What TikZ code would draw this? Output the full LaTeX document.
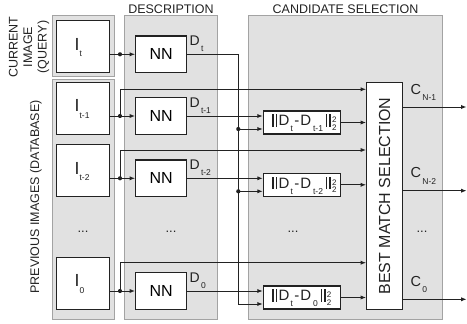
\documentclass[tikz,border=0pt]{standalone}
\usepackage{fontspec}
\setmainfont{Liberation Sans}
\usetikzlibrary{arrows.meta,calc}
\definecolor{panelfill}{HTML}{E1E1E1}
\definecolor{panelline}{HTML}{A3A3A3}
\definecolor{ink}{HTML}{222222}
\newcommand\fsz[2]{{\fontsize{#1}{#1}\selectfont #2}}
\newcommand\lsub[2]{\raisebox{-#1}{\fontsize{8.5}{8.5}\selectfont #2}}
\newcommand\nrmbar{\rule[-1pt]{1.5pt}{12.4pt}\kern1.8pt\rule[-1pt]{1.5pt}{12.4pt}}
\newcommand\difbox[1]{\nrmbar\kern1.5pt\fsz{15}{D}\kern1pt\lsub{6pt}{t}\kern1.4pt\fsz{15}{-}\kern1.1pt\fsz{15}{D}\kern1.9pt\lsub{6pt}{#1}\kern2.9pt\nrmbar\kern1.4pt\rlap{\raisebox{3pt}{\fontsize{8}{8}\selectfont 2}}\raisebox{-4.3pt}{\fontsize{8}{8}\selectfont 2}}
\begin{document}
\begin{tikzpicture}[x=1pt,y=-1pt,
  panel/.style={draw=panelline, fill=panelfill, line width=0.9pt},
  box/.style={draw=ink, fill=white, line width=1.1pt, inner sep=0pt},
  conn/.style={draw=ink, line width=1pt},
  arr/.style={conn, -{Latex[length=5.5pt,width=4.2pt]}},
  jdot/.style={circle, fill=ink, inner sep=0pt, minimum size=4.2pt},
  hdr/.style={font=\fontsize{12.5}{14.5}\selectfont, text=ink, inner sep=0pt},
  lbl/.style={text=ink, inner sep=0pt, anchor=base west}]
\useasboundingbox (0,0) rectangle (467,324);
% panels
\path[panel] (52.3,15) rectangle (114,76.5);
\path[panel] (52.3,79) rectangle (114,319);
\path[panel] (124.3,15) rectangle (217.7,319);
\path[panel] (248.3,15) rectangle (442.7,319);
% headers
\node[hdr, anchor=base] (hdesc) at (171,13) {DESCRIPTION};
\node[hdr, anchor=base] (hcand) at (345.5,13) {CANDIDATE SELECTION};
\node[hdr, rotate=90, align=center] (hcur) at (29,47) {CURRENT\\IMAGE\\(QUERY)};
\node[hdr, rotate=90] (hprev) at (36,197) {PREVIOUS IMAGES (DATABASE)};
% selection box
\node[box, minimum width=36pt, minimum height=226.6pt] (SEL) at (384.7,196) {};
\node[rotate=90, text=ink, inner sep=0pt] (SELT) at (SEL) {\fsz{16}{BEST MATCH SELECTION}};
% rows
\foreach \i/\r/\lab in {0/54.3/t, 1/116/t-1, 2/178.3/t-2, 3/291/0}{
  \node[box, minimum width=52.6pt, minimum height=52pt] (I\i) at (83,\r-7.5) {};
  \node[lbl] (IL\i) at (74.5,\r-4.2) {\fsz{17.5}{I}\lsub{6.5pt}{\lab}};
  \node[box, minimum width=51pt, minimum height=36.6pt] (NN\i) at (161.2,\r) {\fsz{16}{NN}};
  \node[lbl] (DL\i) at (189.5,\r-8.7) {\fsz{14}{D}\kern1.2pt\lsub{6pt}{\lab}};
  \coordinate (J\i) at (120,\r);
  \draw[arr] (I\i.east |- J\i) -- (NN\i.west);
  \node[jdot] (JD\i) at (J\i) {};
}
% diff boxes
\foreach \i/\r/\lab in {1/116/t-1, 2/178.3/t-2, 3/291/0}{
  \node[box, minimum width=76.7pt, minimum height=23pt] (DF\i) at (301.7,\r+6.5) {};
  \node[lbl] (DFT\i) at ($(DF\i.west)+(9.4,3.2)$) {\difbox{\lab}};
  \coordinate (DFhi\i) at ($(DF\i.west)+(0,-6.5)$);
  \coordinate (DFlo\i) at ($(DF\i.west)+(0,6.5)$);
  \draw[arr] (NN\i.east) -- (DFhi\i);
  \draw[arr] (DF\i.east) -- (DF\i.east -| SEL.west);
}
% bus of D_t
\coordinate (B0) at (238.3,54.3);
\draw[arr] (NN0.east) -- (B0) -- (B0 |- DFlo3) -- (DFlo3);
\foreach \i in {1,2}{
  \draw[arr] (B0 |- DFlo\i) -- (DFlo\i);
  \node[jdot] at (B0 |- DFlo\i) {};
}
% upper lines to selection
\foreach \i/\u in {1/89.3, 2/150, 3/262.7}{
  \coordinate (U\i) at (120,\u);
  \draw[arr] (J\i) -- (U\i) -- (U\i -| SEL.west);
}
% outputs
\foreach \k/\o/\c in {1/107/N-1, 2/190.7/N-2, 3/299.3/0}{
  \coordinate (O\k) at (466.6,\o);
  \draw[arr] (SEL.east |- O\k) -- (O\k);
  \node[lbl] (CL\k) at (410.5,\o-13) {\fsz{14.5}{C}\kern1.2pt\lsub{6.5pt}{\c}};
}
% ellipses
\node[text=ink] (e1) at (83,232) {\fsz{13}{...}};
\node[text=ink] (e2) at (171,232) {\fsz{13}{...}};
\node[text=ink] (e3) at (293,232) {\fsz{13}{...}};
\node[text=ink] (e4) at (422,232) {\fsz{13}{...}};
\end{tikzpicture}
\end{document}
